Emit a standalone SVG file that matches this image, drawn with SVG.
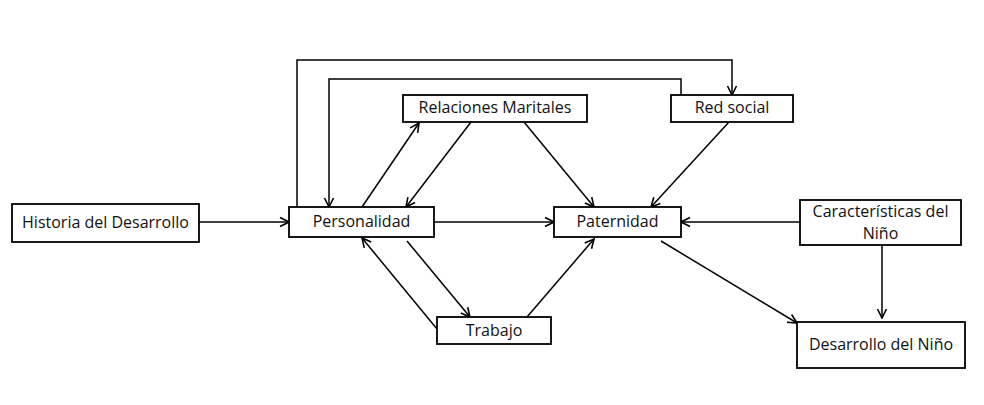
<svg xmlns="http://www.w3.org/2000/svg" width="984" height="405" viewBox="0 0 984 405">
  <defs>
    <marker id="arrow" viewBox="0 0 12 12" refX="11" refY="6" markerWidth="12" markerHeight="12" markerUnits="userSpaceOnUse" orient="auto">
      <path d="M2,1.5 L11,6 L2,10.5" fill="none" stroke="#000" stroke-width="1.6"/>
    </marker>
    <style>
      .box { fill: #fff; stroke: #000; stroke-width: 1.8; }
      .lbl { font-family: "Open Sans", "Noto Sans", sans-serif; font-size: 16px; fill: #111; text-anchor: middle; dominant-baseline: central; }
      .edge { fill: none; stroke: #000; stroke-width: 1.5; marker-end: url(#arrow); }
    </style>
  </defs>
  <rect width="984" height="405" fill="#fff"/>

  <g id="connectors">
    <!-- feedback loops over the top -->
    <path class="edge" d="M297,207 V60 H732 V95"/>
    <path class="edge" d="M681,95 V79 H329 V207"/>
    <!-- horizontal links -->
    <path class="edge" d="M199,222 H289"/>
    <path class="edge" d="M434,222 H554"/>
    <path class="edge" d="M800,222 H681"/>
    <!-- Personalidad / Relaciones Maritales -->
    <path class="edge" d="M362,207 L419,123"/>
    <path class="edge" d="M471,122 L406,207"/>
    <!-- into Paternidad -->
    <path class="edge" d="M524,122 L594,207"/>
    <path class="edge" d="M729,122 L651,207"/>
    <path class="edge" d="M527,317 L594,239"/>
    <!-- Personalidad / Trabajo -->
    <path class="edge" d="M437,329 L362,238"/>
    <path class="edge" d="M407,241 L470,317"/>
    <!-- toward Desarrollo del Niño -->
    <path class="edge" d="M661,241 L797,323"/>
    <path class="edge" d="M882,245 V318"/>
  </g>

  <g id="historia">
    <rect class="box" x="12" y="204" width="187" height="38"/>
    <text class="lbl" x="105.5" y="222">Historia del Desarrollo</text>
  </g>
  <g id="personalidad">
    <rect class="box" x="289" y="207" width="145" height="30"/>
    <text class="lbl" x="361.5" y="221">Personalidad</text>
  </g>
  <g id="relaciones">
    <rect class="box" x="403" y="95" width="184" height="27"/>
    <text class="lbl" x="495" y="107">Relaciones Maritales</text>
  </g>
  <g id="red-social">
    <rect class="box" x="671" y="95" width="122" height="27"/>
    <text class="lbl" x="732" y="107">Red social</text>
  </g>
  <g id="paternidad">
    <rect class="box" x="554" y="207" width="127" height="30"/>
    <text class="lbl" x="617.5" y="221">Paternidad</text>
  </g>
  <g id="caracteristicas">
    <rect class="box" x="800" y="200" width="161" height="45"/>
    <text class="lbl" x="880.5" y="211">Características del</text>
    <text class="lbl" x="880.5" y="233">Niño</text>
  </g>
  <g id="trabajo">
    <rect class="box" x="437" y="317" width="114" height="27"/>
    <text class="lbl" x="494" y="329.5">Trabajo</text>
  </g>
  <g id="desarrollo">
    <rect class="box" x="797" y="322" width="168" height="46"/>
    <text class="lbl" x="881" y="343.5">Desarrollo del Niño</text>
  </g>
</svg>
